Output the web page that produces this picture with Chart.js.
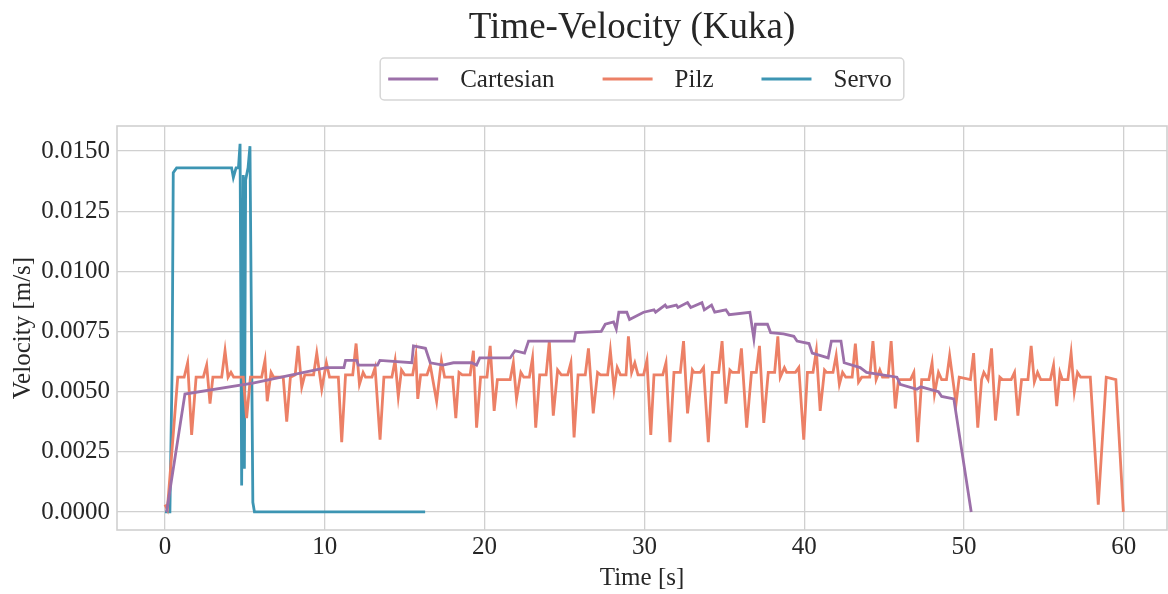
<!DOCTYPE html>
<html>
<head>
<meta charset="utf-8">
<title>Time-Velocity (Kuka)</title>
<script src="https://cdn.jsdelivr.net/npm/chart.js@4.4.1/dist/chart.umd.min.js"></script>
<style>
  html, body { margin: 0; padding: 0; background: #fff; }
</style>
</head>
<body>
<canvas id="velChart" width="1168" height="594"></canvas>
<script>
// --- velocity logs (time in s, velocity in m/s) ---
const cartTime = [
  0.1, 1.25, 5.5, 10.1, 11.2, 11.3, 12.0, 12.1, 13.3, 13.45,
  15.45, 15.55, 16.3, 16.6, 17.4, 18.05, 19.2, 19.5, 19.7, 21.6,
  21.9, 22.5, 22.75, 25.6, 25.7, 27.3, 27.55, 28.07, 28.24, 28.4,
  28.9, 29.07, 29.95, 30.6, 30.7, 31.3, 31.4, 32.0, 32.1, 32.7,
  32.9, 33.6, 33.75, 34.2, 34.4, 35.1, 35.3, 36.6, 36.85, 36.95,
  37.7, 37.9, 38.7, 39.35, 39.55, 40.3, 40.5, 41.5, 41.7, 42.3,
  42.5, 43.5, 43.9, 45.8, 46.0, 47.05, 47.3, 48.4, 48.6, 49.36,
  50.45
];
const cartVel = [
  0.0000, 0.0049, 0.00535, 0.0060, 0.0060, 0.0063, 0.0063, 0.0061, 0.0061, 0.0063,
  0.0062, 0.0069, 0.0068, 0.0062, 0.0061, 0.0062, 0.0062, 0.0061, 0.0064, 0.0064,
  0.0067, 0.0066, 0.0071, 0.0071, 0.00745, 0.0075, 0.0078, 0.0079, 0.0076, 0.0083,
  0.0083, 0.0080, 0.0083, 0.0084, 0.0083, 0.0086, 0.0085, 0.0086, 0.0085, 0.0087,
  0.0085, 0.0087, 0.0084, 0.0086, 0.0083, 0.0084, 0.0082, 0.0083, 0.0072, 0.0078,
  0.0078, 0.00745, 0.0074, 0.0073, 0.0071, 0.0070, 0.0066, 0.0064, 0.0071, 0.0071,
  0.0062, 0.0060, 0.0058, 0.0056, 0.0053, 0.0051, 0.0052, 0.0050, 0.0048, 0.0047,
  0.0000
];

const pilzTime = [
  0, 0.15, 0.8, 1.2, 1.42, 1.67, 1.95, 2.4, 2.61, 2.82,
  3.0, 3.55, 3.76, 3.95, 4.13, 4.3, 4.9, 5.11, 5.35, 6.05,
  6.26, 6.4, 6.64, 6.8, 7.4, 7.62, 7.85, 8.15, 8.33, 8.56,
  8.75, 9.3, 9.5, 9.81, 10.1, 10.3, 10.85, 11.06, 11.3, 11.75,
  11.96, 12.17, 12.4, 12.55, 12.95, 13.15, 13.46, 13.7, 14.2, 14.4,
  14.6, 14.8, 15.0, 15.5, 15.7, 15.82, 16.0, 16.4, 16.6, 17.0,
  17.3, 17.5, 18.0, 18.2, 18.4, 18.6, 19.1, 19.3, 19.5, 19.75,
  20.15, 20.35, 20.6, 20.8, 21.6, 21.8, 22.0, 22.27, 22.45, 22.8,
  23.0, 23.2, 23.45, 23.85, 24.05, 24.3, 24.57, 24.8, 25.2, 25.4,
  25.6, 25.85, 26.3, 26.5, 26.8, 27.07, 27.25, 27.7, 27.87, 28.1,
  28.3, 28.5, 28.85, 29.0, 29.2, 29.4, 29.6, 29.95, 30.16, 30.4,
  30.6, 31.15, 31.35, 31.6, 31.85, 32.25, 32.45, 32.7, 33.0, 33.1,
  33.5, 33.7, 34.0, 34.25, 34.65, 34.86, 35.1, 35.35, 35.5, 35.9,
  36.07, 36.4, 36.7, 37.0, 37.2, 37.47, 37.75, 38.15, 38.35, 38.5,
  38.76, 38.9, 39.45, 39.66, 39.97, 40.2, 40.55, 40.76, 41.0, 41.27,
  41.4, 41.8, 42.0, 42.2, 42.4, 42.6, 43.0, 43.2, 43.4, 43.6,
  44.1, 44.3, 44.5, 44.73, 44.9, 45.25, 45.44, 45.7, 45.9, 46.65,
  46.86, 47.1, 47.35, 47.8, 48.0, 48.15, 48.4, 48.6, 48.9, 49.1,
  49.5, 49.7, 50.4, 50.6, 50.86, 51.1, 51.24, 51.5, 51.72, 51.97,
  52.24, 52.4, 52.95, 53.16, 53.37, 53.6, 54.0, 54.2, 54.4, 54.6,
  54.8, 55.4, 55.6, 55.8, 56.0, 56.15, 56.5, 56.7, 56.9, 57.1,
  57.3, 57.9, 58.4, 58.9, 59.5, 59.97
];
const pilzVel = [
  0.0003, 0.0001, 0.0056, 0.0056, 0.0062, 0.0032, 0.0056, 0.0056, 0.0061, 0.0045,
  0.0056, 0.0056, 0.0067, 0.0056, 0.0058, 0.0056, 0.0056, 0.0039, 0.0056, 0.0056,
  0.0063, 0.0046, 0.0058, 0.0056, 0.0056, 0.00375, 0.0056, 0.0057, 0.0069, 0.0052,
  0.0057, 0.0057, 0.0066, 0.0051, 0.0062, 0.0056, 0.0056, 0.0029, 0.0057, 0.0057,
  0.0070, 0.0053, 0.0058, 0.0056, 0.0056, 0.0060, 0.0030, 0.0056, 0.0056, 0.0063,
  0.0048, 0.0059, 0.0057, 0.0057, 0.0065, 0.0047, 0.0057, 0.0057, 0.0061, 0.0046,
  0.0063, 0.0056, 0.0056, 0.0039, 0.0058, 0.0057, 0.0057, 0.0067, 0.0035, 0.0056,
  0.0056, 0.0069, 0.0042, 0.0055, 0.0055, 0.0062, 0.0047, 0.0058, 0.0056, 0.0056,
  0.0064, 0.0035, 0.0057, 0.0057, 0.0071, 0.0040, 0.0059, 0.0057, 0.0057, 0.0062,
  0.0031, 0.0057, 0.0057, 0.0068, 0.0041, 0.0058, 0.0057, 0.0057, 0.0067, 0.0051,
  0.0060, 0.0057, 0.0057, 0.0073, 0.0058, 0.0062, 0.0057, 0.0057, 0.0063, 0.0032,
  0.0057, 0.0057, 0.0062, 0.0029, 0.0058, 0.0058, 0.0071, 0.0041, 0.0059, 0.0058,
  0.0058, 0.0060, 0.0029, 0.0058, 0.0058, 0.0071, 0.0045, 0.0059, 0.0058, 0.0058,
  0.0068, 0.0035, 0.0058, 0.0058, 0.0069, 0.0037, 0.0058, 0.0058, 0.0073, 0.0056,
  0.0060, 0.0058, 0.0058, 0.0060, 0.0030, 0.0058, 0.0058, 0.0067, 0.0042, 0.0059,
  0.0058, 0.0058, 0.0065, 0.0053, 0.0058, 0.0056, 0.0056, 0.0070, 0.0054, 0.0056,
  0.0056, 0.0071, 0.0055, 0.0059, 0.0056, 0.0056, 0.0071, 0.0043, 0.0055, 0.0055,
  0.0058, 0.0029, 0.0055, 0.0055, 0.0062, 0.0049, 0.0058, 0.0055, 0.0055, 0.0065,
  0.0045, 0.0056, 0.0055, 0.0066, 0.0035, 0.0055, 0.0058, 0.0055, 0.0068, 0.0038,
  0.0056, 0.0055, 0.0055, 0.0058, 0.0040, 0.0055, 0.0055, 0.0069, 0.0054, 0.0058,
  0.0055, 0.0055, 0.0061, 0.0044, 0.0058, 0.0055, 0.0055, 0.0066, 0.0050, 0.0058,
  0.0056, 0.0056, 0.0003, 0.0056, 0.0055, 0.0000
];

const servoTime = [
  0, 0.31, 0.45, 0.52, 0.73, 4.17, 4.28, 4.45, 4.6, 4.7,
  4.8, 4.9, 4.97, 5.05, 5.2, 5.32, 5.5, 5.6, 16.28
];
const servoVel = [
  0.0000, 0.0000, 0.0060, 0.0141, 0.0143, 0.0143, 0.0139, 0.0143, 0.0143, 0.0153,
  0.0011, 0.0140, 0.0018, 0.0138, 0.0143, 0.0152, 0.0004, 0.0000, 0.0000
];

const seriesNames = ['Cartesian', 'Pilz', 'Servo'];
const seriesColors = ['#9c70a9', '#ec8066', '#3d95b3'];
const chartTitle = 'Time-Velocity (Kuka)';

const xTicksStep = 10;
const yTicksStep = 0.0025;

// --- styling ---
const FONT = "'Liberation Serif', 'Times New Roman', serif";
const TEXT = '#262626';
const GRID = '#d0d0d0';

const toPoints = (xs, ys) => xs.map((x, i) => ({ x: x, y: ys[i] }));

// Box frame round the plot area (top/right sides included)
const plotFrame = {
  id: 'plotFrame',
  beforeDatasetsDraw(chart) {
    const { ctx, chartArea: a } = chart;
    ctx.save();
    ctx.strokeStyle = GRID;
    ctx.lineWidth = 1.6;
    ctx.strokeRect(a.left, a.top, a.right - a.left, a.bottom - a.top);
    ctx.restore();
  }
};

// Title + legend in a rounded box, line samples on the left of each label
const headerBlock = {
  id: 'headerBlock',
  afterDraw(chart) {
    const { ctx, chartArea: area } = chart;
    ctx.save();

    ctx.font = `37px ${FONT}`;
    ctx.fillStyle = TEXT;
    ctx.textAlign = 'center';
    ctx.textBaseline = 'middle';
    ctx.fillText(chartTitle, 632, 28);

    ctx.font = `25px ${FONT}`;
    const items = chart.data.datasets.map(ds => ({
      label: ds.label, color: ds.borderColor, w: ctx.measureText(ds.label).width
    }));
    const padL = 8, padR = 12, lineW = 50, textGap = 22, itemGap = 48;
    const total = padL + padR + itemGap * (items.length - 1) +
      items.reduce((s, it) => s + lineW + textGap + it.w, 0);
    const top = 58, h = 42, cy = top + h / 2;
    let x = (area.left + area.right) / 2 - total / 2;

    ctx.fillStyle = '#fff';
    ctx.strokeStyle = '#d6d6d6';
    ctx.lineWidth = 1.5;
    ctx.beginPath();
    ctx.roundRect(x, top, total, h, 4);
    ctx.fill();
    ctx.stroke();

    x += padL;
    ctx.textAlign = 'left';
    items.forEach(it => {
      ctx.strokeStyle = it.color;
      ctx.lineWidth = 2.8;
      ctx.beginPath();
      ctx.moveTo(x, cy);
      ctx.lineTo(x + lineW, cy);
      ctx.stroke();
      x += lineW + textGap;
      ctx.fillStyle = TEXT;
      ctx.fillText(it.label, x, cy + 1);
      x += it.w + itemGap;
    });
    ctx.restore();
  }
};

const seriesData = [
  toPoints(cartTime, cartVel),
  toPoints(pilzTime, pilzVel),
  toPoints(servoTime, servoVel)
];

new Chart(document.getElementById('velChart'), {
  type: 'line',
  data: {
    datasets: seriesNames.map((name, i) => ({
      label: name,
      data: seriesData[i],
      borderColor: seriesColors[i],
      backgroundColor: seriesColors[i],
      borderWidth: 2.8,
      pointRadius: 0,
      tension: 0,
      fill: false
    }))
  },
  options: {
    responsive: false,
    animation: false,
    layout: { padding: { left: 0, right: 1, top: 126, bottom: 0 } },
    plugins: {
      legend: { display: false },
      tooltip: { enabled: false },
      title: { display: false }
    },
    scales: {
      x: {
        type: 'linear',
        min: -3.0,
        max: 62.7,
        grid: { color: GRID, lineWidth: 1.3, drawTicks: false },
        border: { display: false },
        ticks: {
          stepSize: xTicksStep,
          includeBounds: false,
          padding: 2.75,
          color: TEXT,
          font: { family: FONT, size: 25 },
          callback: v => String(v)
        },
        title: {
          display: true,
          text: 'Time [s]',
          color: TEXT,
          font: { family: FONT, size: 25, lineHeight: 1.0 },
          padding: { top: 0, bottom: 3.5 }
        }
      },
      y: {
        min: -0.00075,
        max: 0.01604,
        grid: { color: GRID, lineWidth: 1.3, drawTicks: false },
        border: { display: false },
        afterFit: s => { s.width = 117; },
        ticks: {
          stepSize: yTicksStep,
          includeBounds: false,
          padding: 7,
          color: TEXT,
          font: { family: FONT, size: 25 },
          callback: v => v.toFixed(4)
        },
        title: {
          display: true,
          text: 'Velocity [m/s]',
          color: TEXT,
          font: { family: FONT, size: 25 },
          padding: { top: 8, bottom: 4 }
        }
      }
    }
  },
  plugins: [plotFrame, headerBlock]
});
</script>
</body>
</html>
